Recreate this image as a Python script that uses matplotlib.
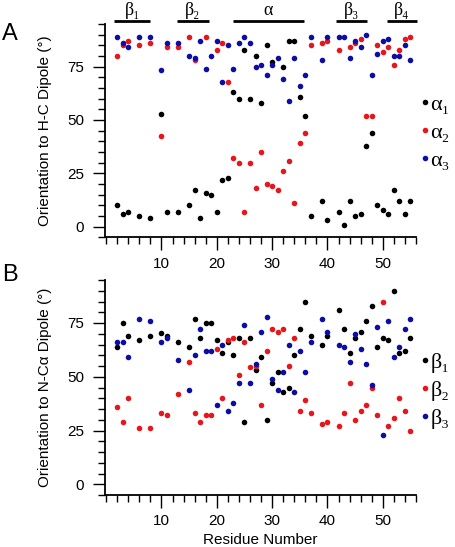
import numpy as np
import matplotlib
matplotlib.use("Agg")
import matplotlib.pyplot as plt
from matplotlib.ticker import MultipleLocator

nan = np.nan

# residue numbers with data
residues = [2, 3, 4, 6, 8, 10, 11, 13, 15, 16, 17, 18, 19, 20, 21, 22, 23, 24, 25, 26, 27,
            28, 29, 30, 31, 32, 33, 34, 35, 36, 37, 39, 40, 42, 43, 44, 45, 46, 47, 48, 49,
            50, 51, 52, 53, 54, 55]

# panel A: orientation to H-C dipole
alpha1 = [10, 6, 7, 5, 4, 53, 7, 7, 10, 17, 4, 16, 15, 7, 22, 23, 63, 60, 83, 60, 80,
          58, 85, 77, nan, 75, 87, 87, 61, 52, 5, 12, 3, 7, 1, 12, 5, 6, 38, 44, 10,
          8, 6, 17, 12, 6, 12]
alpha2 = [80, 85, 87, 85, 86, 42.5, 84, 84, 89, 78, nan, 89, nan, 83, 86, 68, 32, 30, 7, 30, 18,
          35, 20, 19, 17, 26, 31, 11, 39, 44, 85, 86, 87, 83, nan, 84, 86, 88, 52, 52, 85,
          82, 84, 76, 83, 88, 89]
alpha3 = [89, 86, 84, 89, 89, 73.5, 86, 86, 80, 79, 87, 74, 80, 87, 68, 85, 74, 86, 89, 86, 75,
          76, 71, 76, 79, 69, 59, 79, 66, 71, 89, 78, 89, 89, 89, 79, 87, 84, 90, 71, 81,
          87, 88, 80, 80, 85, 78]

# panel B: orientation to N-Ca dipole
beta1 = [64, 75, 69, 67, 69, 70.5, 69, 66, 64, 77, 68, 75, 75, 67, 61, 66, 60, 68, 29, 68, 53,
         59, 30, 47, 52, 43, 45, 60, 72, 85, 69, 65, 69, 81, 72, 61, 68, 71, 76, 83, 64,
         68, 67, 90, 61, 62, 68]
beta2 = [36, 29, 40, 26, 26, 33, 32, 42, 57, 33, 29, 32, 32, 63, 40, 67, 68, 51, 66, 54.5, 55,
         37, 62, 72, 71, 72, 55, 68, 34, 39, 33, 28, 29, 27, 33, 47, 30, 34, 37, 45, 32,
         85, 27, 31, 40, 34, 25]
beta3 = [66, 66, 59, 77, 76, 66, 68, 58, 44, 60, 72, 62, 62, 37, 65, 34, 38, 47, 74, 47, 56,
         71, 78, 49, 44, 52, 65, 43, 62, 52, 66, 77, 71, 65, 64, 57, 70, 63, 56, 46, 73,
         23, 76, 59, 64, 72, 77]

# secondary structure bars above panel A
ss_names = ["β₁", "β₂", "α", "β₃", "β₄"]
ss_start = [1.5, 12.8, 22.9, 41.6, 50.7]
ss_end = [8.0, 18.6, 35.7, 47.1, 56.2]

colors = ["#000000", "#e8161c", "#0c0ca6"]
sans = ["Liberation Sans", "DejaVu Sans"]
serif = ["Liberation Serif", "DejaVu Serif"]

plt.rcParams["font.family"] = sans
plt.rcParams["font.size"] = 11

fig = plt.figure(figsize=(4.55, 5.47), dpi=100)
axA = fig.add_axes([105 / 455, 1 - 237.3 / 547, 311 / 455, 213.3 / 547])
axB = fig.add_axes([105 / 455, 1 - 495 / 547, 311 / 455, 215 / 547])


def style_axis(ax):
    ax.set_xlim(-0.2, 56)
    ax.set_ylim(-5, 95)
    for s in ["top", "right"]:
        ax.spines[s].set_visible(False)
    for s in ["left", "bottom"]:
        ax.spines[s].set_linewidth(1.3)
    ax.xaxis.set_minor_locator(MultipleLocator(2))
    ax.yaxis.set_minor_locator(MultipleLocator(5))
    ax.set_xticks([10, 20, 30, 40, 50])
    ax.set_yticks([0, 25, 50, 75])
    ax.tick_params(which="major", direction="out", length=9, width=1, pad=5, labelsize=11)
    ax.tick_params(which="minor", direction="out", length=5, width=1)
    ax.tick_params(axis="y", which="major", pad=6)


series_A = [alpha1, alpha2, alpha3]
series_B = [beta1, beta2, beta3]
labels_A = ["α₁", "α₂", "α₃"]
labels_B = ["β₁", "β₂", "β₃"]

for ax, series, labels, ylab, leg_y in [
        (axA, series_A, labels_A, "Orientation to H-C Dipole (°)", 0.49),
        (axB, series_B, labels_B, "Orientation to N-Cα Dipole (°)", 0.485)]:
    style_axis(ax)
    handles = []
    for vals, c in zip(series, colors):
        h, = ax.plot(residues, vals, "o", ms=4, color=c, mew=0, clip_on=False)
        handles.append(h)
    ax.set_ylabel(ylab, fontsize=11, labelpad=11)
    ax.legend(handles, labels, loc="center left", bbox_to_anchor=(0.985, leg_y),
              frameon=False, handlelength=0.4, handletextpad=0.05, borderaxespad=0,
              labelspacing=0.33, prop={"family": serif, "size": 16})

axB.set_xlabel("Residue Number", fontsize=11, labelpad=3)

# secondary structure bars
for name, a, b in zip(ss_names, ss_start, ss_end):
    axA.plot([a, b], [96.6, 96.6], color="black", lw=2, clip_on=False, solid_capstyle="butt")
    axA.text((a + b) / 2, 97.3, name, ha="center", va="bottom", fontsize=13,
             family=serif, clip_on=False)

fig.text(0.005, 1 - 34 / 547, "A", fontsize=17, va="center", ha="left")
fig.text(0.005, 1 - 275 / 547, "B", fontsize=17, va="center", ha="left")

fig.savefig("out.png", dpi=100)
